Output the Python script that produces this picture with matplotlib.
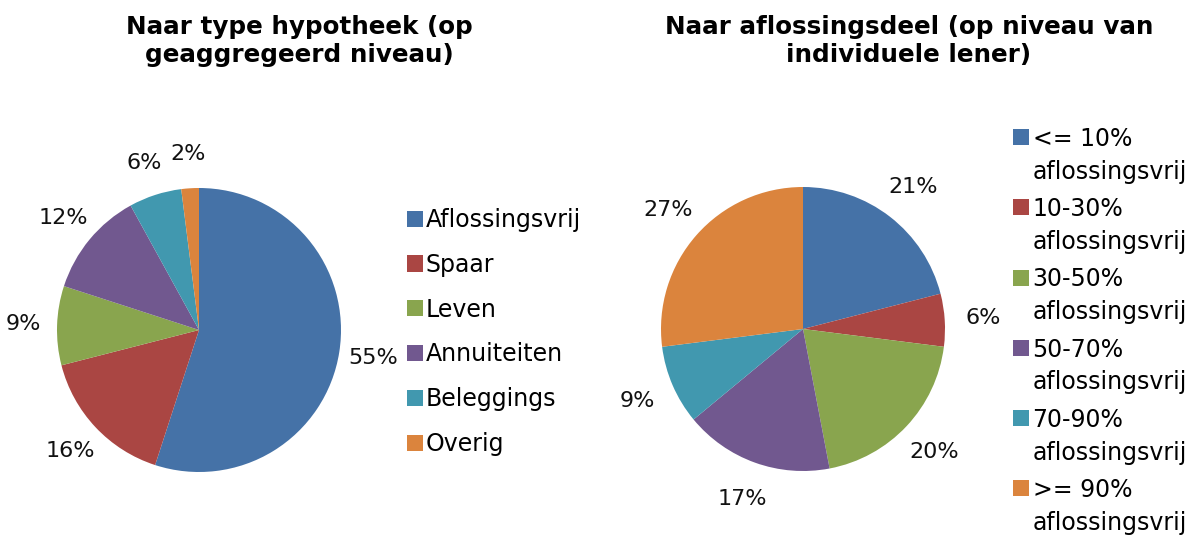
import matplotlib
matplotlib.use("Agg")
import matplotlib.pyplot as plt
from matplotlib.patches import Rectangle
from matplotlib.legend_handler import HandlerPatch

# data
type_labels = ["Aflossingsvrij", "Spaar", "Leven", "Annuiteiten", "Beleggings", "Overig"]
type_values = [55, 16, 9, 12, 6, 2]

deel_labels = ["<= 10%\naflossingsvrij", "10-30%\naflossingsvrij", "30-50%\naflossingsvrij",
               "50-70%\naflossingsvrij", "70-90%\naflossingsvrij", ">= 90%\naflossingsvrij"]
deel_values = [21, 6, 20, 17, 9, 27]

colors = ["#4572A7", "#AA4643", "#89A54E", "#71588F", "#4198AF", "#DB843D"]

plt.rcParams['font.family'] = ['DejaVu Sans']

W, H = 1191, 537
fig = plt.figure(figsize=(W/100, H/100), dpi=100)

R = 142  # pie radius in px
half = 190


def pie_axes(cx, cy):
    ax = fig.add_axes([(cx-half)/W, (H-cy-half)/H, 2*half/W, 2*half/H])
    ax.axis('off')
    return ax


ax1 = pie_axes(199, 330)
w1, _, t1 = ax1.pie(type_values, colors=colors, startangle=90, counterclock=False,
                    autopct='%d%%', pctdistance=1.24, radius=1,
                    textprops={'fontsize': 16, 'color': '#111111'})
ax1.set_xlim(-half/R, half/R)
ax1.set_ylim(-half/R, half/R)

ax2 = pie_axes(803, 329)
w2, _, t2 = ax2.pie(deel_values, colors=colors, startangle=90, counterclock=False,
                    autopct='%d%%', pctdistance=1.27, radius=1,
                    textprops={'fontsize': 16, 'color': '#111111'})
ax2.set_xlim(-half/R, half/R)
ax2.set_ylim(-half/R, half/R)

fig.text(299/W, 1-41/H, "Naar type hypotheek (op\ngeaggregeerd niveau)", ha='center', va='center',
         fontsize=17.7, fontweight='bold', linespacing=1.25)
fig.text(909/W, 1-41/H, "Naar aflossingsdeel (op niveau van\nindividuele lener)", ha='center', va='center',
         fontsize=17.7, fontweight='bold', linespacing=1.25)

leg1 = fig.legend(w1, type_labels, loc='upper left', bbox_to_anchor=(407/W, 1-208/H), frameon=False,
                  fontsize=17, handlelength=0.68, handleheight=0.68, handletextpad=0.12,
                  labelspacing=0.88, borderaxespad=0, borderpad=0)


def top_square(legend, orig_handle, xdescent, ydescent, width, height, fontsize):
    # square aligned to the first line of a two-line label
    return Rectangle((-xdescent, -ydescent + 0.82*fontsize), width, height)


leg2 = fig.legend(w2, deel_labels, loc='upper left', bbox_to_anchor=(1013/W, 1-127/H), frameon=False,
                  fontsize=17, handlelength=0.68, handleheight=0.68, handletextpad=0.15,
                  labelspacing=0.58, borderaxespad=0, borderpad=0,
                  handler_map={p: HandlerPatch(patch_func=top_square) for p in w2})
for t in leg2.get_texts():
    t.set_linespacing(1.45)

fig.savefig("out.png", dpi=100)
